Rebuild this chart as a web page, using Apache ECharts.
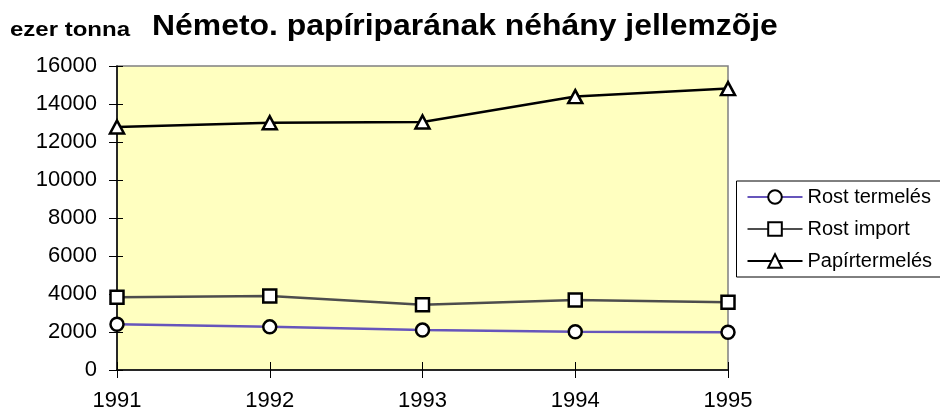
<!DOCTYPE html>
<html>
<head>
<meta charset="utf-8">
<script src="https://cdn.jsdelivr.net/npm/echarts@6/dist/echarts.min.js"></script>
<style>
  html, body { margin: 0; padding: 0; background: #fff; }
  #chart { width: 940px; height: 412px; }
</style>
</head>
<body>
<div id="chart"></div>
<script>
var years = ['1991', '1992', '1993', '1994', '1995'];
var rostTermeles = [2410, 2270, 2100, 2010, 1990];
var rostImport = [3830, 3900, 3430, 3690, 3570];
var papirTermeles = [12790, 13010, 13050, 14390, 14810];
var yTicks = { min: 0, max: 16000, interval: 2000 };

var myChart = echarts.init(document.getElementById('chart'));
var font = 'Liberation Sans, Arial, sans-serif';

var mark = {
    color: '#ffffff',
    borderColor: '#000000',
    borderWidth: 2.5
};

var option = {
    animation: false,
    backgroundColor: '#ffffff',
    graphic: [{
        type: 'text',
        x: 152,
        y: 12,
        scaleX: 1.1,
        style: {
            text: 'Németo. papíriparának néhány jellemzõje',
            font: 'bold 29px ' + font,
            fill: '#000',
            verticalAlign: 'top'
        }
    }, {
        type: 'text',
        x: 10,
        y: 20,
        scaleX: 1.2,
        style: {
            text: 'ezer tonna',
            font: 'bold 20px ' + font,
            fill: '#000',
            verticalAlign: 'top'
        }
    }],
    grid: {
        left: 117, right: 212, top: 66, bottom: 41,
        show: true,
        backgroundColor: '#ffffc0',
        borderColor: '#808080',
        borderWidth: 1.5
    },
    legend: {
        orient: 'vertical',
        right: -2,
        top: 181,
        itemWidth: 55,
        itemHeight: 17,
        itemGap: 12,
        padding: [6, 10, 6, 10],
        borderColor: '#000',
        borderWidth: 1,
        textStyle: { fontFamily: font, fontSize: 20, color: '#000' },
        data: ['Rost termelés', 'Rost import', 'Papírtermelés']
    },
    xAxis: [{
        type: 'category',
        data: years,
        boundaryGap: false,
        axisLine: { lineStyle: { color: '#000', width: 1.5 } },
        axisTick: { length: 8, lineStyle: { color: '#000' } },
        axisLabel: { fontFamily: font, fontSize: 22, color: '#000', margin: 20 },
        splitLine: { show: false }
    }, {
        type: 'category',
        data: years,
        position: 'bottom',
        boundaryGap: false,
        axisLine: { show: false },
        axisTick: { inside: true, length: 8, lineStyle: { color: '#000' } },
        axisLabel: { show: false },
        splitLine: { show: false }
    }],
    yAxis: [{
        type: 'value',
        min: yTicks.min,
        max: yTicks.max,
        interval: yTicks.interval,
        axisLine: { show: true, lineStyle: { color: '#000', width: 1.5 } },
        axisTick: { show: true, length: 8, lineStyle: { color: '#000' } },
        axisLabel: {
            fontFamily: font, fontSize: 22, color: '#000', margin: 20,
            formatter: function (v) { return String(v); }
        },
        splitLine: { show: false }
    }, {
        type: 'value',
        position: 'left',
        min: yTicks.min,
        max: yTicks.max,
        interval: yTicks.interval,
        axisLine: { show: false },
        axisTick: { show: true, inside: true, length: 6, lineStyle: { color: '#000' } },
        axisLabel: { show: false },
        splitLine: { show: false }
    }],
    series: [{
        name: 'Rost termelés',
        type: 'line',
        data: rostTermeles,
        symbol: 'circle',
        symbolSize: 13,
        lineStyle: { color: '#6655bb', width: 2.5 },
        itemStyle: mark,
        color: '#6655bb'
    }, {
        name: 'Rost import',
        type: 'line',
        data: rostImport,
        symbol: 'rect',
        symbolSize: 13,
        lineStyle: { color: '#4d4d4d', width: 2.5 },
        itemStyle: mark,
        color: '#4d4d4d'
    }, {
        name: 'Papírtermelés',
        type: 'line',
        data: papirTermeles,
        symbol: 'triangle',
        symbolSize: [14, 13],
        lineStyle: { color: '#000000', width: 2.5 },
        itemStyle: mark,
        color: '#000000'
    }]
};

myChart.setOption(option);
window.addEventListener('resize', function () {
    myChart.resize();
});
</script>
</body>
</html>
